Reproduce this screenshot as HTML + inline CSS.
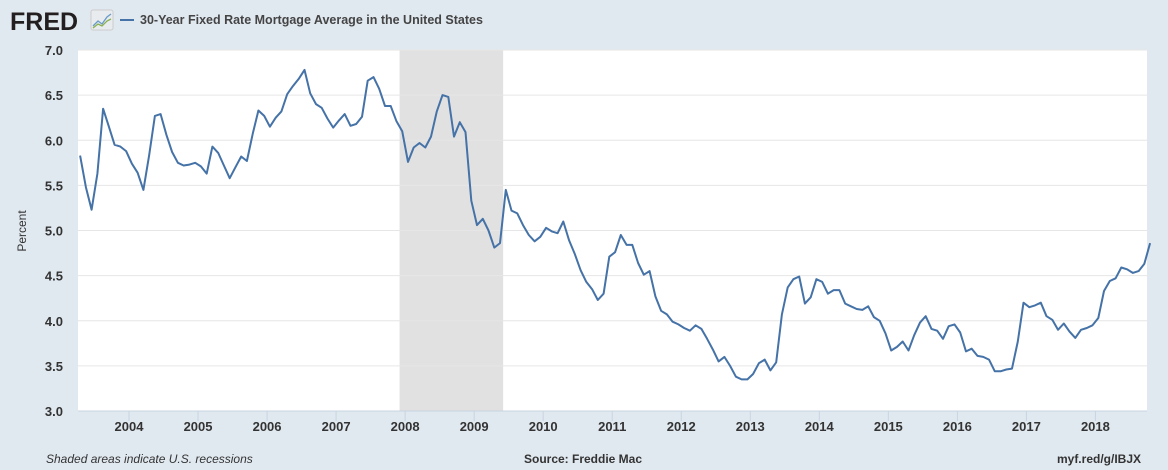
<!DOCTYPE html>
<html><head><meta charset="utf-8"><style>
body{margin:0;background:#e1e9f0;}
svg{display:block;font-family:"Liberation Sans",sans-serif;}
</style></head><body>
<svg id="c" width="1168" height="470">
<rect width="1168" height="470" fill="#e1e9f0"/>
<text x="10" y="30" font-size="25" font-weight="bold" fill="#231f20">FRED</text>
<g>
<rect x="91" y="10" width="22" height="20" rx="2" fill="#e8ecef" stroke="#ccc"/>
<polyline points="93,26 98,21 102,24 107,17 111,14" fill="none" stroke="#6a9ac6" stroke-width="1.3"/>
<polyline points="93,28 98,24 102,26 107,21 111,19" fill="none" stroke="#8ab050" stroke-width="1.3"/>
</g>
<line x1="120" y1="20" x2="134" y2="20" stroke="#4572a7" stroke-width="2"/>
<text x="140" y="24" font-size="12.5" font-weight="bold" fill="#444">30-Year Fixed Rate Mortgage Average in the United States</text>
<rect x="78" y="50" width="1069" height="361" fill="#fff"/>
<g id="rec"></g><g id="grid"></g><g id="ax"></g><g id="ser"></g>
<text transform="translate(26,231) rotate(-90)" text-anchor="middle" font-size="12" fill="#333">Percent</text>
<text x="46" y="463" font-size="12" font-style="italic" fill="#333">Shaded areas indicate U.S. recessions</text>
<text x="583" y="463" text-anchor="middle" font-size="12" font-weight="bold" fill="#333">Source: Freddie Mac</text>
<text x="1141" y="463" text-anchor="end" font-size="12" font-weight="bold" fill="#333">myf.red/g/IBJX</text>
</svg>
<script>
const startYear = 2003, startMonth = 3;
const rates = [
5.83,5.48,5.23,5.63,6.35,6.15,5.95,5.93,5.88,
5.74,5.64,5.45,5.83,6.27,6.29,6.06,5.87,5.75,5.72,5.73,5.75,
5.71,5.63,5.93,5.86,5.72,5.58,5.70,5.82,5.77,6.07,6.33,6.27,
6.15,6.25,6.32,6.51,6.60,6.68,6.78,6.52,6.40,6.36,6.24,6.14,
6.22,6.29,6.16,6.18,6.26,6.66,6.70,6.57,6.38,6.38,6.21,6.10,
5.76,5.92,5.97,5.92,6.04,6.32,6.50,6.48,6.04,6.20,6.09,5.33,
5.06,5.13,5.00,4.81,4.86,5.45,5.22,5.19,5.06,4.95,4.88,4.93,
5.03,4.99,4.97,5.10,4.89,4.74,4.56,4.43,4.35,4.23,4.30,4.71,
4.76,4.95,4.84,4.84,4.64,4.51,4.55,4.27,4.11,4.07,3.99,3.96,
3.92,3.89,3.95,3.91,3.80,3.68,3.55,3.60,3.50,3.38,3.35,3.35,
3.41,3.53,3.57,3.45,3.54,4.07,4.37,4.46,4.49,4.19,4.26,4.46,
4.43,4.30,4.34,4.34,4.19,4.16,4.13,4.12,4.16,4.04,4.00,3.86,
3.67,3.71,3.77,3.67,3.84,3.98,4.05,3.91,3.89,3.80,3.94,3.96,
3.87,3.66,3.69,3.61,3.60,3.57,3.44,3.44,3.46,3.47,3.77,4.20,
4.15,4.17,4.20,4.05,4.01,3.90,3.97,3.88,3.81,3.90,3.92,3.95,
4.03,4.33,4.44,4.47,4.59,4.57,4.53,4.55,4.63,4.86];
const yTicks = [3.0,3.5,4.0,4.5,5.0,5.5,6.0,6.5,7.0];
const xTicks = [2004,2005,2006,2007,2008,2009,2010,2011,2012,2013,2014,2015,2016,2017,2018];
const recessionStart = 2007.92, recessionEnd = 2009.42;

const NS="http://www.w3.org/2000/svg";
const L=78,R=1147,T=50,B=411;
const xS=t=>129+(t-2004)*69.03;
const yS=v=>B-(v-3)/4*(B-T);
function mk(tag,attrs,parent,txt){const e=document.createElementNS(NS,tag);for(const k in attrs)e.setAttribute(k,attrs[k]);if(txt!=null)e.textContent=txt;document.getElementById(parent).appendChild(e);return e;}

const rec=mk('rect',{x:xS(recessionStart),y:T,width:xS(recessionEnd)-xS(recessionStart),height:B-T,fill:'#e1e1e1'},'rec');



yTicks.forEach(v=>{
  if(v>3){const g=mk('line',{x1:L,x2:R,y1:yS(v),y2:yS(v),stroke:'#e6e6e6','stroke-width':1},'grid');
  
  }
  const t=mk('text',{x:63,y:yS(v)+5,'text-anchor':'end','font-size':13,'font-weight':'bold',fill:'#333'},'ax',v.toFixed(1));
  
  
});
const base=mk('line',{x1:L,x2:R,y1:B,y2:B,stroke:'#c8d4e0','stroke-width':1},'ax');


xTicks.forEach(y=>{
  const tk=mk('line',{x1:xS(y),x2:xS(y),y1:B,y2:B+10,stroke:'#c8d4e0'},'ax');
  
  
  const t=mk('text',{x:xS(y),y:B+20,'text-anchor':'middle','font-size':13,'font-weight':'bold',fill:'#333'},'ax',String(y));
  
  
});
const pts=rates.map((v,i)=>{const t=startYear+(startMonth+i+0.5)/12;return xS(t).toFixed(1)+','+yS(v).toFixed(1);});
const line=mk('polyline',{points:pts.join(' '),fill:'none',stroke:'#4572a7','stroke-width':2,'stroke-linejoin':'round'},'ser');


</script>
</body></html>
